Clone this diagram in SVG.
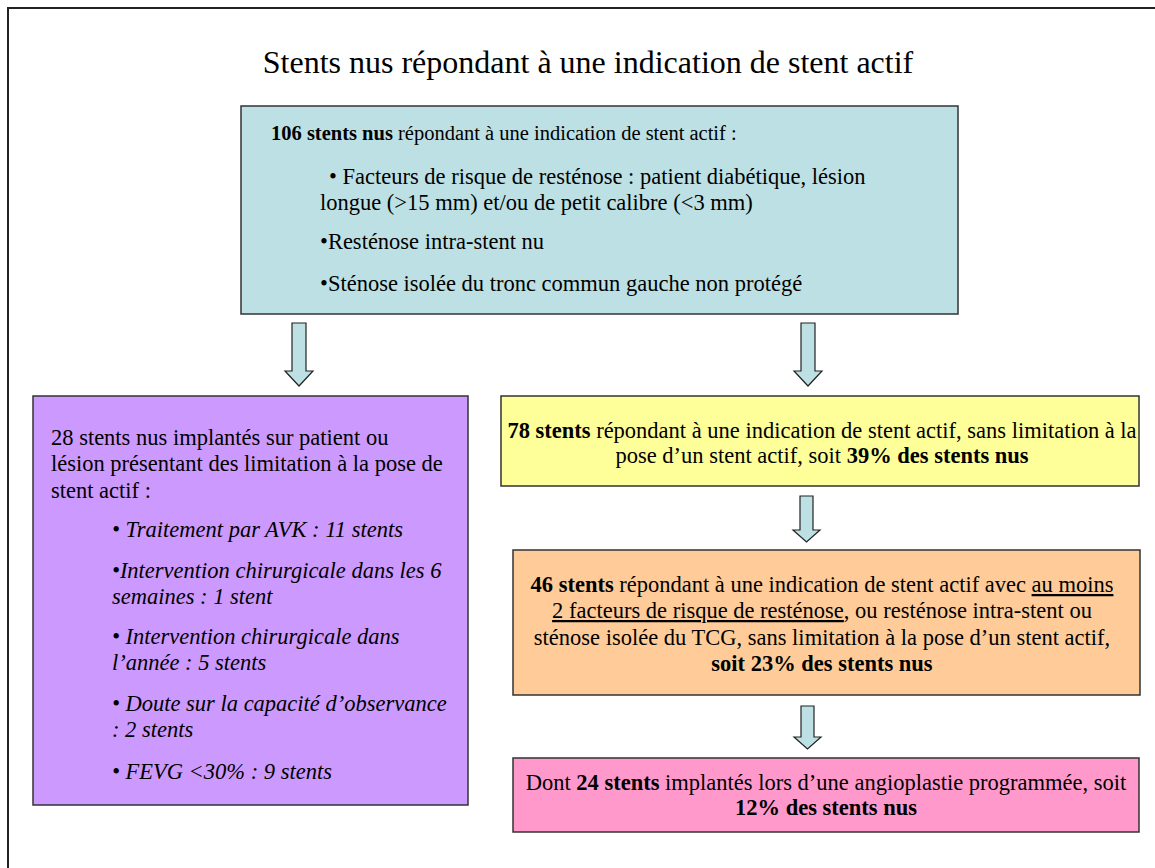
<svg xmlns="http://www.w3.org/2000/svg" width="1155" height="868" viewBox="0 0 1155 868">
<style>
text{font-family:"Liberation Serif","Times New Roman",serif;font-size:22.5px;fill:#000}
.t{font-size:32px}
.s{font-size:20.5px}
.b{font-weight:bold}
.i{font-style:italic}
.c{text-anchor:middle}
.box{stroke:#333;stroke-width:1.5}
.arr{fill:#BDE0E4;stroke:#222;stroke-width:1.2;stroke-linejoin:miter}
</style>
<rect width="1155" height="868" fill="#fff"/>
<path d="M8,868 V8 H1155" fill="none" stroke="#222" stroke-width="2"/>
<text class="t" x="588" y="73" text-anchor="middle">Stents nus répondant à une indication de stent actif</text>

<g id="n-top">
<rect class="box" x="241" y="106" width="717" height="208" fill="#BDE0E4"/>
<text class="s" x="271" y="140"><tspan class="b">106 stents nus</tspan> répondant à une indication de stent actif :</text>
<text x="329" y="184">• Facteurs de risque de resténose : patient diabétique, lésion</text>
<text x="320" y="210">longue (&gt;15 mm) et/ou de petit calibre (&lt;3 mm)</text>
<text x="320" y="249">•Resténose intra-stent nu</text>
<text x="320" y="291">•Sténose isolée du tronc commun gauche non protégé</text>
</g>

<g id="n-left">
<rect class="box" x="33" y="396" width="435" height="409" fill="#CC99FF"/>
<text x="51" y="445">28 stents nus implantés sur patient ou</text>
<text x="51" y="471">lésion présentant des limitation à la pose de</text>
<text x="51" y="498">stent actif :</text>
<text class="i" x="112" y="537">• Traitement par AVK : 11 stents</text>
<text class="i" x="112" y="578">•Intervention chirurgicale dans les 6</text>
<text class="i" x="112" y="604">semaines : 1 stent</text>
<text class="i" x="112" y="644">• Intervention chirurgicale dans</text>
<text class="i" x="112" y="670">l’année : 5 stents</text>
<text class="i" x="112" y="711">• Doute sur la capacité d’observance</text>
<text class="i" x="112" y="737">: 2 stents</text>
<text class="i" x="112" y="779">• FEVG &lt;30% : 9 stents</text>
</g>

<g id="n-yellow">
<rect class="box" x="501" y="396" width="638" height="90" fill="#FFFF99"/>
<text class="c" x="822" y="438"><tspan class="b">78 stents</tspan> répondant à une indication de stent actif, sans limitation à la</text>
<text class="c" x="822" y="463">pose d’un stent actif, soit <tspan class="b">39% des stents nus</tspan></text>
</g>

<g id="n-orange">
<rect class="box" x="513" y="550" width="627" height="145" fill="#FFCC99"/>
<text class="c" x="822" y="592"><tspan class="b">46 stents</tspan> répondant à une indication de stent actif avec <tspan text-decoration="underline">au moins</tspan></text>
<text class="c" x="822" y="618"><tspan text-decoration="underline">2 facteurs de risque de resténose</tspan>, ou resténose intra-stent ou</text>
<text class="c" x="822" y="645">sténose isolée du TCG, sans limitation à la pose d’un stent actif,</text>
<text class="c b" x="822" y="671">soit 23% des stents nus</text>
</g>

<g id="n-pink">
<rect class="box" x="513" y="758" width="626" height="74" fill="#FF99CC"/>
<text class="c" x="826" y="790">Dont <tspan class="b">24 stents</tspan> implantés lors d’une angioplastie programmée, soit</text>
<text class="c b" x="826" y="815">12% des stents nus</text>
</g>

<g id="connectors">
<path class="arr" d="M292,323 H306 V371 H313 L299,386 L285,371 H292 Z"/>
<path class="arr" d="M801,323 H815 V371 H822 L808,386 L794,371 H801 Z"/>
<path class="arr" d="M800,496 H813 V530 H820 L806.5,542 L793,530 H800 Z"/>
<path class="arr" d="M801,706 H814 V737 H821 L807.5,749 L794,737 H801 Z"/>
</g>
</svg>
